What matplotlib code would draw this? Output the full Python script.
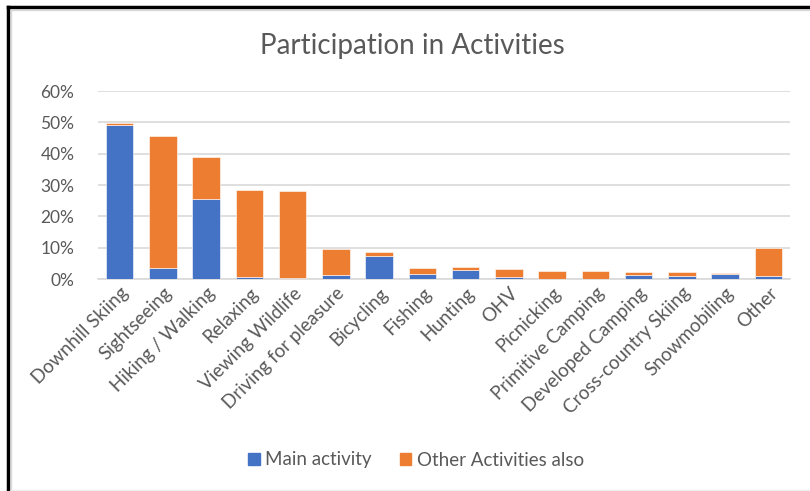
import matplotlib
matplotlib.use("Agg")
import matplotlib.pyplot as plt
from matplotlib.patches import Rectangle
from matplotlib.lines import Line2D
import numpy as np

categories = ["Downhill Skiing", "Sightseeing", "Hiking / Walking", "Relaxing",
              "Viewing Wildlife", "Driving for pleasure", "Bicycling", "Fishing",
              "Hunting", "OHV", "Picnicking", "Primitive Camping",
              "Developed Camping", "Cross-country Skiing", "Snowmobiling", "Other"]
main_activity = [49.2, 3.6, 25.6, 0.6, 0.2, 1.3, 7.5, 1.7,
                 3.0, 0.5, 0.1, 0.1, 1.2, 0.9, 1.5, 0.9]
total = [49.9, 45.5, 39.0, 28.4, 28.0, 9.5, 8.6, 3.6,
         3.7, 3.3, 2.5, 2.5, 2.2, 2.2, 1.9, 9.8]
other_also = [round(t - m, 1) for t, m in zip(total, main_activity)]
yticks = [0, 10, 20, 30, 40, 50, 60]

plt.rcParams['font.family'] = ['Lato', 'DejaVu Sans']
grey = '#595959'
blue = '#4472C4'
orange = '#ED7D31'

W, H = 810, 491
fig = plt.figure(figsize=(W / 100, H / 100), dpi=100)
ax = fig.add_axes([98 / W, 1 - 279 / H, (790 - 98) / W, (279 - 91) / H])

x = np.arange(len(categories))
ax.bar(x, main_activity, width=0.64, color=blue, edgecolor='white', linewidth=0.4,
       label='Main activity', zorder=3)
ax.bar(x, other_also, bottom=main_activity, width=0.64, color=orange,
       edgecolor='white', linewidth=0.4, label='Other Activities also', zorder=3)

ax.set_xlim(-0.5, len(categories) - 0.5)
ax.set_ylim(0, 60)
ax.set_yticks(yticks)
ax.set_yticklabels([f"{v}%" for v in yticks], color=grey, fontsize=12.5)
ax.yaxis.grid(True, color='#D9D9D9', linewidth=1.2, zorder=0)
ax.set_axisbelow(True)
for s in ['top', 'right', 'left']:
    ax.spines[s].set_visible(False)
ax.spines['bottom'].set_color('#D9D9D9')
ax.spines['bottom'].set_linewidth(1.2)
ax.tick_params(axis='both', length=0)
ax.tick_params(axis='y', pad=17)
ax.set_xticks(x)
ax.set_xticklabels(categories, rotation=45, ha='right', rotation_mode='anchor',
                   color=grey, fontsize=13.5)
ax.tick_params(axis='x', pad=4)

fig.text(412 / W, 1 - 46 / H, "Participation in Activities", ha='center', va='center',
         color=grey, fontsize=20)

handles = [Rectangle((0, 0), 1, 1, color=blue), Rectangle((0, 0), 1, 1, color=orange)]
fig.legend(handles, ['Main activity', 'Other Activities also'], loc='center',
           bbox_to_anchor=(416 / W, 1 - 460 / H), ncol=2, frameon=False,
           fontsize=13.5, labelcolor=grey, handlelength=0.6, handleheight=0.6,
           handletextpad=0.3, columnspacing=1.5)

# chart frame
fig.add_artist(Line2D([8 / W, 8 / W], [0, 1 - 7 / H], color='black', linewidth=2.5,
                      transform=fig.transFigure))
fig.add_artist(Line2D([8 / W, 1], [1 - 7 / H, 1 - 7 / H], color='black', linewidth=2.5,
                      transform=fig.transFigure))
fig.add_artist(Line2D([10.5 / W, 10.5 / W], [1 / H, 1 - 9.5 / H], color='#D9D9D9',
                      linewidth=1, transform=fig.transFigure))
fig.add_artist(Line2D([10.5 / W, 1], [1 - 9.5 / H, 1 - 9.5 / H], color='#D9D9D9',
                      linewidth=1, transform=fig.transFigure))
fig.add_artist(Line2D([10.5 / W, 1], [1 / H, 1 / H], color='#EEEEEE',
                      linewidth=1, transform=fig.transFigure))

fig.savefig("out.png", dpi=100)
